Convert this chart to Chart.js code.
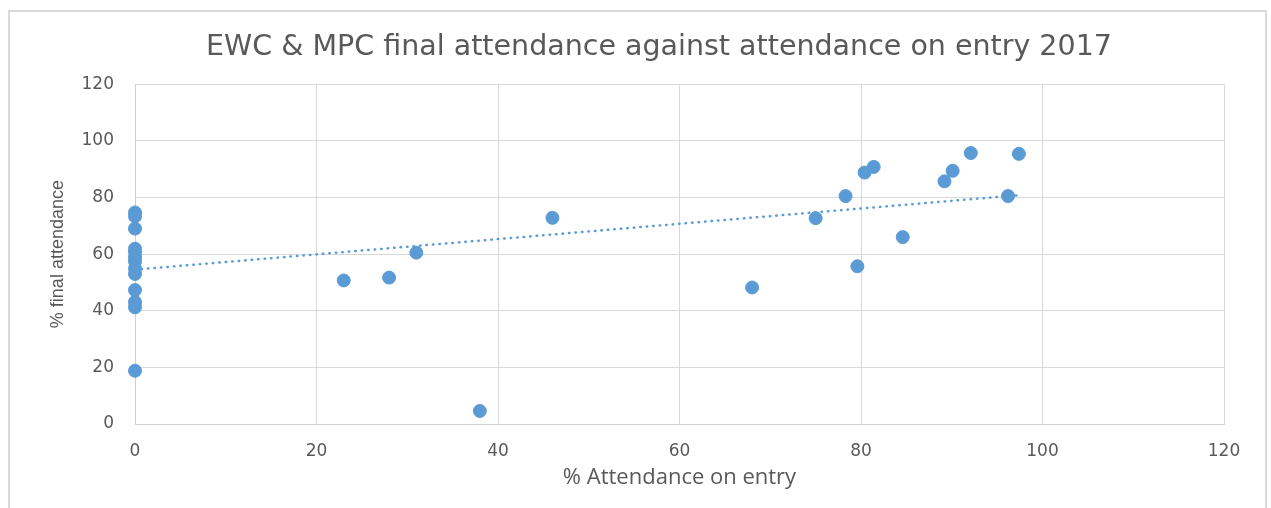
<!DOCTYPE html>
<html>
<head>
<meta charset="utf-8">
<title>EWC & MPC final attendance against attendance on entry 2017</title>
<script src="https://cdn.jsdelivr.net/npm/chart.js@4.4.1/dist/chart.umd.min.js"></script>
<style>
  html, body { margin: 0; padding: 0; background: #fff; }
  #frame {
    position: absolute; left: 8px; top: 10px; width: 1259px; height: 520px;
    border: 2px solid #d9d9d9; box-sizing: border-box;
  }
  #wrap { position: absolute; left: 0; top: 0; width: 1271px; height: 508px; }
</style>
</head>
<body>
<div id="frame"></div>
<div id="wrap"><canvas id="chart"></canvas></div>
<script>
// % attendance on entry (x) and % final attendance (y), one entry per student
const entryPct = [0, 0, 0, 0, 0, 0, 0, 0, 0, 0, 0, 0, 0,
  23, 28, 31, 38, 46, 68, 75, 78.3, 79.6, 80.4, 81.4, 84.6, 89.2, 90.1, 92.1, 96.2, 97.4];
const finalPct = [74.7, 73.3, 69, 61.9, 60.8, 58.9, 57.4, 54.9, 53, 47.3, 43.1, 41.2, 18.8,
  50.7, 51.7, 60.5, 4.6, 72.8, 48.2, 72.7, 80.5, 55.7, 88.8, 90.8, 66, 85.7, 89.4, 95.7, 80.5, 95.4];

// linear trendline ends, as drawn in the original
const trendEntry = [0, 97.4];
const trendFinal = [54.5, 80.8];

const axisTicks = [0, 20, 40, 60, 80, 100, 120];

const blue = '#5b9bd5';
const grey = '#595959';

const points = entryPct.map((x, i) => ({ x, y: finalPct[i] }));
const trend = trendEntry.map((x, i) => ({ x, y: trendFinal[i] }));

// Excel centres the title a bit right of the canvas centre
const shiftTitle = {
  id: 'shiftTitle',
  afterLayout(chart) {
    if (chart.titleBlock) chart.titleBlock.left = 94;
  }
};

new Chart(document.getElementById('chart'), {
  type: 'scatter',
  data: {
    datasets: [
      {
        label: 'Students',
        data: points,
        backgroundColor: blue,
        borderColor: blue,
        borderWidth: 1,
        pointRadius: 6.5,
        clip: false
      },
      {
        label: 'Linear trend',
        data: trend,
        showLine: true,
        pointRadius: 0,
        borderColor: blue,
        borderWidth: 2.5,
        borderDash: [0.5, 6],
        borderCapStyle: 'round',
        fill: false
      }
    ]
  },
  options: {
    responsive: true,
    maintainAspectRatio: false,
    animation: false,
    layout: { padding: { left: 0, right: 47, top: 0, bottom: 0 } },
    plugins: {
      legend: { display: false },
      tooltip: { enabled: false },
      title: {
        display: true,
        text: 'EWC & MPC final attendance against attendance on entry 2017',
        color: grey,
        font: { family: 'DejaVu Sans', size: 28.5, weight: 'normal', lineHeight: 1.2 },
        padding: { top: 30, bottom: 20 }
      }
    },
    scales: {
      x: {
        type: 'linear',
        min: axisTicks[0],
        max: axisTicks[axisTicks.length - 1],
        afterBuildTicks: s => { s.ticks = axisTicks.map(v => ({ value: v })); },
        afterFit: s => { s.height = 84; },
        grid: { color: '#d9d9d9', drawTicks: false },
        border: { color: '#cfcfcf' },
        ticks: { color: grey, padding: 17, font: { family: 'DejaVu Sans', size: 17 } },
        title: {
          display: true,
          text: '% Attendance on entry',
          color: grey,
          font: { family: 'Open Sans', size: 22, lineHeight: 1.2 },
          padding: { top: 0, bottom: 17 }
        }
      },
      y: {
        type: 'linear',
        min: axisTicks[0],
        max: axisTicks[axisTicks.length - 1],
        afterBuildTicks: s => { s.ticks = axisTicks.map(v => ({ value: v })); },
        afterFit: s => { s.width = 135; },
        grid: { color: '#d9d9d9', drawTicks: false },
        border: { color: '#cfcfcf' },
        ticks: { color: grey, padding: 21, font: { family: 'DejaVu Sans', size: 17 } },
        title: {
          display: true,
          text: '% final attendance',
          color: grey,
          font: { family: 'Liberation Sans', size: 18, lineHeight: 1.2 },
          padding: { top: 47, bottom: 0 }
        }
      }
    }
  },
  plugins: [shiftTitle]
});
</script>
</body>
</html>
